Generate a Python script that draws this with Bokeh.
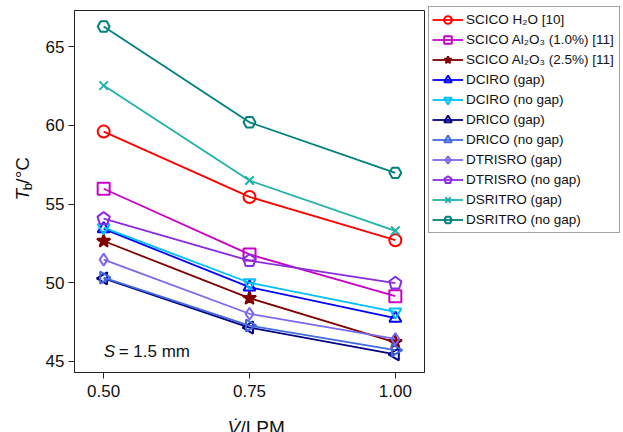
import math
from bokeh.plotting import figure
from bokeh.layouts import row, column
from bokeh.models import Legend, LegendItem, Label, FixedTicker, Range1d
from bokeh.core.properties import value
from bokeh.embed import file_html
from bokeh.resources import INLINE

# Flow rate (LPM) and bulk temperature (deg C) for each configuration
flow = [0.50, 0.75, 1.00]
x_tick_labels = ["0.50", "0.75", "1.00"]
y_ticks = [45, 50, 55, 60, 65]

scico_h2o = [59.6, 55.45, 52.7]
scico_al_10 = [55.97, 51.8, 49.15]
scico_al_25 = [52.65, 49.02, 46.22]
dciro_gap = [53.42, 49.72, 47.75]
dciro_nogap = [53.5, 50.0, 48.15]
drico_gap = [50.28, 47.15, 45.45]
drico_nogap = [50.33, 47.28, 45.72]
dtrisro_gap = [51.47, 48.03, 46.43]
dtrisro_nogap = [54.07, 51.4, 49.97]
dsritro_gap = [62.52, 56.49, 53.3]
dsritro_nogap = [66.27, 60.19, 56.98]

series = [
    ("SCICO H\u2082O [10]", scico_h2o, "#FF0000", "circle", 0.0, False),
    ("SCICO Al\u2082O\u2083 (1.0%) [11]", scico_al_10, "#C800C8", "square", 0.0, False),
    ("SCICO Al\u2082O\u2083 (2.5%) [11]", scico_al_25, "#800000", "star", 0.0, True),
    ("DCIRO (gap)", dciro_gap, "#0000FF", "triangle", 0.0, False),
    ("DCIRO (no gap)", dciro_nogap, "#00BFFF", "inverted_triangle", 0.0, False),
    ("DRICO (gap)", drico_gap, "#000080", "triangle", math.pi / 2, False),
    ("DRICO (no gap)", drico_nogap, "#4169E1", "triangle", -math.pi / 2, False),
    ("DTRISRO (gap)", dtrisro_gap, "#7B68EE", "diamond", 0.0, False),
    ("DTRISRO (no gap)", dtrisro_nogap, "#8A2BE2", "pentagon", 0.0, False),
    ("DSRITRO (gap)", dsritro_gap, "#20B2AA", "x", 0.0, False),
    ("DSRITRO (no gap)", dsritro_nogap, "#008080", "hex", 0.0, False),
]

FONT = "Liberation Sans"
INK = "#111111"
X0, X1 = 0.45, 1.05
Y0, Y1 = 44.30, 67.29

TOTAL_W = 623
TOTAL_H = 432
YSTRIP_W = 35          # strip holding the rotated y-axis title
BOTTOM = 34            # room under the frame for ticks and tick labels
PLOT_H = 10 + 362 + BOTTOM
XSTRIP_H = TOTAL_H - PLOT_H   # strip holding the x-axis title

# ---- main plot ----
p = figure(
    frame_width=350, height=PLOT_H,
    x_range=Range1d(X0, X1), y_range=Range1d(Y0, Y1),
    output_backend="svg", toolbar_location=None,
    min_border_left=74 - YSTRIP_W, min_border_right=0,
    min_border_top=10, min_border_bottom=BOTTOM,
)
p.background_fill_color = "white"
p.border_fill_color = "white"
p.outline_line_color = "#222222"
p.outline_line_width = 1
p.grid.visible = False

for ax in (p.xaxis[0], p.yaxis[0]):
    ax.axis_line_color = "#222222"
    ax.major_tick_line_color = "#222222"
    ax.major_tick_out = 6
    ax.major_tick_in = 0
    ax.minor_tick_line_color = None
    ax.major_label_text_font = FONT
    ax.major_label_text_font_size = "17px"
    ax.major_label_text_color = INK

p.xaxis.ticker = FixedTicker(ticks=flow)
p.xaxis.major_label_overrides = {v: s for v, s in zip(flow, x_tick_labels)}
p.xaxis.major_label_standoff = 6
p.yaxis.ticker = FixedTicker(ticks=y_ticks)
p.yaxis.major_label_standoff = 4

items = []
for label, vals, color, marker, angle, filled in series:
    ln = p.line(flow, vals, line_color=color, line_width=1.8)
    if marker == "pentagon":
        try:
            mk = p.ngon(flow, vals, radius=6.5, radius_units="screen", n=5,
                        fill_color=None, line_color=color, line_width=2)
        except Exception:
            mk = p.scatter(flow, vals, marker="hex", size=12, angle=math.pi / 2,
                           fill_color=None, line_color=color, line_width=2)
    else:
        mk = p.scatter(flow, vals, marker=marker, size=12 if marker != "star" else 14,
                       angle=angle,
                       fill_color=color if filled else None,
                       line_color=color, line_width=2)
    items.append(LegendItem(label=label, renderers=[ln, mk]))

legend = Legend(items=items, location=(4, 139))
legend.margin = 0
legend.padding = 3
legend.spacing = 1
legend.glyph_width = 31
legend.glyph_height = 19
legend.label_height = 19
legend.label_standoff = 3
legend.label_width = 150
legend.label_text_font = FONT
legend.label_text_font_size = "13.5px"
legend.label_text_color = INK
legend.border_line_color = "#444444"
legend.border_line_width = 1
legend.background_fill_color = "white"
legend.background_fill_alpha = 1
p.add_layout(legend, "right")

# Gap annotation inside the frame
p.add_layout(Label(x=0.5, y=45.0, text="S", text_font=FONT, text_font_style="italic",
                   text_font_size="17px", text_color=INK))
p.add_layout(Label(x=0.5, y=45.0, x_offset=15, text="= 1.5 mm", text_font=FONT,
                   text_font_size="17px", text_color=INK))


def text_strip(w, h):
    f = figure(width=w, height=h, x_range=Range1d(0, w), y_range=Range1d(h, 0),
               x_axis_type=None, y_axis_type=None, min_border=0,
               output_backend="svg", toolbar_location=None)
    f.title.visible = False
    f.outline_line_color = None
    f.background_fill_color = "white"
    f.border_fill_color = "white"
    return f


# ---- y-axis title: T_b/°C (pixel coordinates, y down) ----
fy = text_strip(YSTRIP_W, PLOT_H)
common = dict(angle=math.pi / 2, text_align="left", text_baseline="alphabetic",
              text_font=value(FONT), text_color=INK)
fy.text(x=[22], y=[213], text=["T"], text_font_size="19px",
        text_font_style="italic", **common)
fy.text(x=[26.5], y=[201.6], text=["b"], text_font_size="13px", **common)
fy.text(x=[22], y=[194.2], text=["/\u00b0C"], text_font_size="19px", **common)

# ---- x-axis title: V-dot/LPM, full-width strip under the plot ----
fx = text_strip(TOTAL_W, XSTRIP_H)
xcommon = dict(text_align="left", text_baseline="alphabetic",
               text_font=value(FONT), text_color=INK, text_font_size="19px")
base = 427 - PLOT_H
fx.text(x=[227], y=[base], text=["V\u0307"], text_font_style="italic", **xcommon)
fx.text(x=[240], y=[base], text=["/LPM"], **xcommon)

layout = column(row(fy, p, spacing=0), fx, spacing=0)

open("out.html", "w").write(file_html(layout, INLINE))
